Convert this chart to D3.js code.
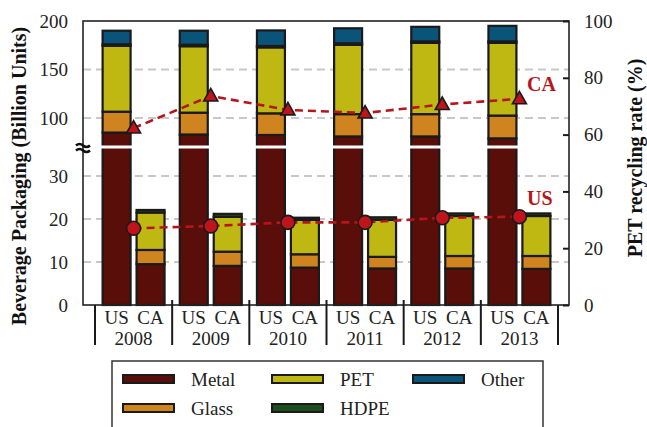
<!DOCTYPE html>
<html><head><meta charset="utf-8">
<script src="https://cdn.jsdelivr.net/npm/d3@7"></script>
<style>body{margin:0;background:#fff}svg{display:block}text{font-family:"Liberation Serif","Times New Roman",serif;}</style>
</head><body>
<svg id="c" width="647" height="427"></svg>
<script>
const years = ["2008","2009","2010","2011","2012","2013"];
const regions = ["US","CA"];
const materials = ["Metal","Glass","PET","HDPE","Other"];
const colors = ["#5a0e0a","#d08420","#bfb813","#1d4d1d","#0b5479"];
// values (billion units), per year
const usMetal = [85, 83, 82.5, 81, 81, 79];
const usGlass = [21.5, 22.5, 22.3, 23, 23, 23.5];
const usPET   = [68, 68.5, 68, 71.5, 73.5, 75];
const usHDPE  = [1.5, 1.5, 1.5, 1.5, 1.5, 1.5];
const usOther = [14, 14.5, 16, 15.5, 15, 16];
const caMetal = [9.5, 9.1, 8.7, 8.5, 8.5, 8.4];
const caGlass = [3.3, 3.3, 3.1, 2.7, 2.9, 3.0];
const caPET   = [8.7, 8.1, 8.0, 8.6, 9.3, 9.3];
const caHDPE  = [0.6, 0.7, 0.5, 0.6, 0.6, 0.6];
const caOther = [0, 0, 0, 0, 0, 0];
// PET recycling rate (%)
const usRate = [27.0, 27.8, 29.1, 29.1, 30.7, 31.1];
const caRate = [62.3, 73.6, 68.7, 67.6, 70.6, 72.6];
const lowTicks = [0, 10, 20, 30];
const upTicks = [100, 150, 200];
const rightTicks = [0, 20, 40, 60, 80, 100];

const svg = d3.select("#c");
const L = 83, R = 569, T = 21, B = 305, BRK = 147;
const yLow = d3.scaleLinear().domain([0, 30]).range([B, 176]);
const yUp = d3.scaleLinear().domain([100, 200]).range([118, T]);
const lowMax = yLow.invert(BRK + 1), upMin = yUp.invert(BRK - 1);
function yv(v) {
  if (v <= lowMax) return yLow(v);
  if (v >= upMin) return yUp(v);
  return BRK;
}
const yR = d3.scaleLinear().domain([0, 100]).range([B, T]);
const x0 = d3.scaleBand().domain(years).range([95, 558]);
const x1 = d3.scaleBand().domain(regions).range([0, x0.bandwidth()]).paddingInner(0.176).paddingOuter(0.224);

// gridlines
const grid = svg.append("g");
[10, 20, 30].forEach(v => grid.append("line").attr("x1", L).attr("x2", R).attr("y1", yLow(v)).attr("y2", yLow(v)));
[100, 150].forEach(v => grid.append("line").attr("x1", L).attr("x2", R).attr("y1", yUp(v)).attr("y2", yUp(v)));
grid.selectAll("line").attr("stroke", "#c8c8c8").attr("stroke-width", 2).attr("stroke-dasharray", "8,5");

// bars
const data = {
  US: [usMetal, usGlass, usPET, usHDPE, usOther],
  CA: [caMetal, caGlass, caPET, caHDPE, caOther]
};
const bars = svg.append("g");
years.forEach((yr, i) => {
  regions.forEach(rg => {
    let acc = 0;
    const x = x0(yr) + x1(rg);
    materials.forEach((m, k) => {
      const v = data[rg][k][i];
      if (v <= 0) return;
      const a = acc, b = acc + v;
      acc = b;
      bars.append("rect")
        .attr("x", x).attr("width", x1.bandwidth())
        .attr("y", yv(b)).attr("height", yv(a) - yv(b))
        .attr("fill", colors[k]).attr("stroke", "#1a1a1a").attr("stroke-width", 2.2);
    });
    if (acc > lowMax) {
      bars.append("rect").attr("x", x - 2).attr("width", x1.bandwidth() + 4)
        .attr("y", BRK - 1.5).attr("height", 3).attr("fill", "#fff");
    }
  });
});

// frame
svg.append("rect").attr("x", L).attr("y", T).attr("width", R - L).attr("height", B - T)
  .attr("fill", "none").attr("stroke", "#222").attr("stroke-width", 1.6);

// group separators on x axis
const seps = years.map(y => x0(y)).concat([x0.range()[1]]);
svg.append("g").selectAll("line").data(seps).join("line")
  .attr("x1", d => d).attr("x2", d => d).attr("y1", (d, i) => (i === 0 || i === seps.length - 1) ? B : B - 5).attr("y2", 345)
  .attr("stroke", "#1a1a1a").attr("stroke-width", 2);

// x labels
const xl = svg.append("g").attr("font-size", 19).attr("fill", "#222").attr("text-anchor", "middle");
years.forEach(yr => {
  regions.forEach(rg => {
    xl.append("text").attr("x", x0(yr) + x1(rg) + x1.bandwidth() / 2).attr("y", 324).text(rg);
  });
  xl.append("text").attr("x", x0(yr) + x0.bandwidth() / 2).attr("y", 345).text(yr);
});

// left axes
const axLow = svg.append("g").attr("transform", `translate(${L},0)`)
  .call(d3.axisLeft(yLow).tickValues(lowTicks).tickSize(0).tickPadding(15));
const axUp = svg.append("g").attr("transform", `translate(${L},0)`)
  .call(d3.axisLeft(yUp).tickValues(upTicks).tickSize(0).tickPadding(15));
[axLow, axUp].forEach(a => {
  a.attr("font-family", null);
  a.select(".domain").remove();
  a.selectAll("text").attr("font-size", 19).attr("fill", "#222");
});
// break symbol
const brk = svg.append("g").attr("stroke", "#111").attr("stroke-width", 2.6).attr("fill", "none");
[-2.5, 2.5].forEach(dy => {
  brk.append("path").attr("d", `M${L - 7},${BRK + dy + 1} q3.5,-3 7,0 t7,0`);
});

// right axis
const axR = svg.append("g").attr("transform", `translate(${R},0)`)
  .call(d3.axisRight(yR).tickValues(rightTicks).tickSize(-6).tickPadding(15));
axR.attr("font-family", null);
axR.select(".domain").remove();
axR.selectAll("line").attr("stroke", "#1a1a1a").attr("stroke-width", 2);
axR.selectAll("text").attr("font-size", 19).attr("fill", "#222");

// axis titles
svg.append("text").attr("transform", "translate(26,176) rotate(-90)").attr("text-anchor", "middle")
  .attr("font-size", 20).attr("font-weight", "bold").attr("fill", "#111")
  .text("Beverage Packaging (Billion Units)");
svg.append("text").attr("transform", "translate(642,158) rotate(-90)").attr("text-anchor", "middle")
  .attr("font-size", 20).attr("font-weight", "bold").attr("fill", "#111")
  .text("PET recycling rate (%)");

// recycling rate lines
const cx = yr => x0(yr) + x0.bandwidth() / 2;
const line = d3.line().x((d, i) => cx(years[i])).y(d => yR(d));
const red = "#b5161e";
[usRate, caRate].forEach(arr => {
  svg.append("path").attr("d", line(arr)).attr("fill", "none").attr("stroke", red)
    .attr("stroke-width", 2.6).attr("stroke-dasharray", "8,5");
});
svg.append("g").selectAll("circle").data(usRate).join("circle")
  .attr("cx", (d, i) => cx(years[i])).attr("cy", d => yR(d)).attr("r", 7)
  .attr("fill", "#c0141c").attr("stroke", "#1a1a1a").attr("stroke-width", 1.6);
svg.append("g").selectAll("path").data(caRate).join("path")
  .attr("transform", (d, i) => `translate(${cx(years[i])},${yR(d)})`)
  .attr("d", "M0,-7.5L7,5L-7,5Z")
  .attr("fill", "#c0141c").attr("stroke", "#1a1a1a").attr("stroke-width", 1.6);
svg.append("text").attr("x", 527).attr("y", 91).attr("font-size", 20).attr("font-weight", "bold").attr("fill", red).text("CA");
svg.append("text").attr("x", 527).attr("y", 205).attr("font-size", 20).attr("font-weight", "bold").attr("fill", red).text("US");

// legend
const lg = svg.append("g");
lg.append("rect").attr("x", 112).attr("y", 361).attr("width", 431).attr("height", 80)
  .attr("fill", "#fff").attr("stroke", "#333").attr("stroke-width", 1.5);
const legPos = [
  {m: "Metal", x: 123, y: 379}, {m: "Glass", x: 123, y: 408},
  {m: "PET", x: 272, y: 379}, {m: "HDPE", x: 272, y: 408},
  {m: "Other", x: 413, y: 379}
];
legPos.forEach(p => {
  const k = materials.indexOf(p.m);
  lg.append("rect").attr("x", p.x).attr("y", p.y - 4).attr("width", 51).attr("height", 8)
    .attr("fill", colors[k]).attr("stroke", "#1a1a1a").attr("stroke-width", 2);
  lg.append("text").attr("x", p.x + 68).attr("y", p.y + 6.5).attr("font-size", 19).attr("fill", "#222").text(p.m);
});
</script>
</body></html>
